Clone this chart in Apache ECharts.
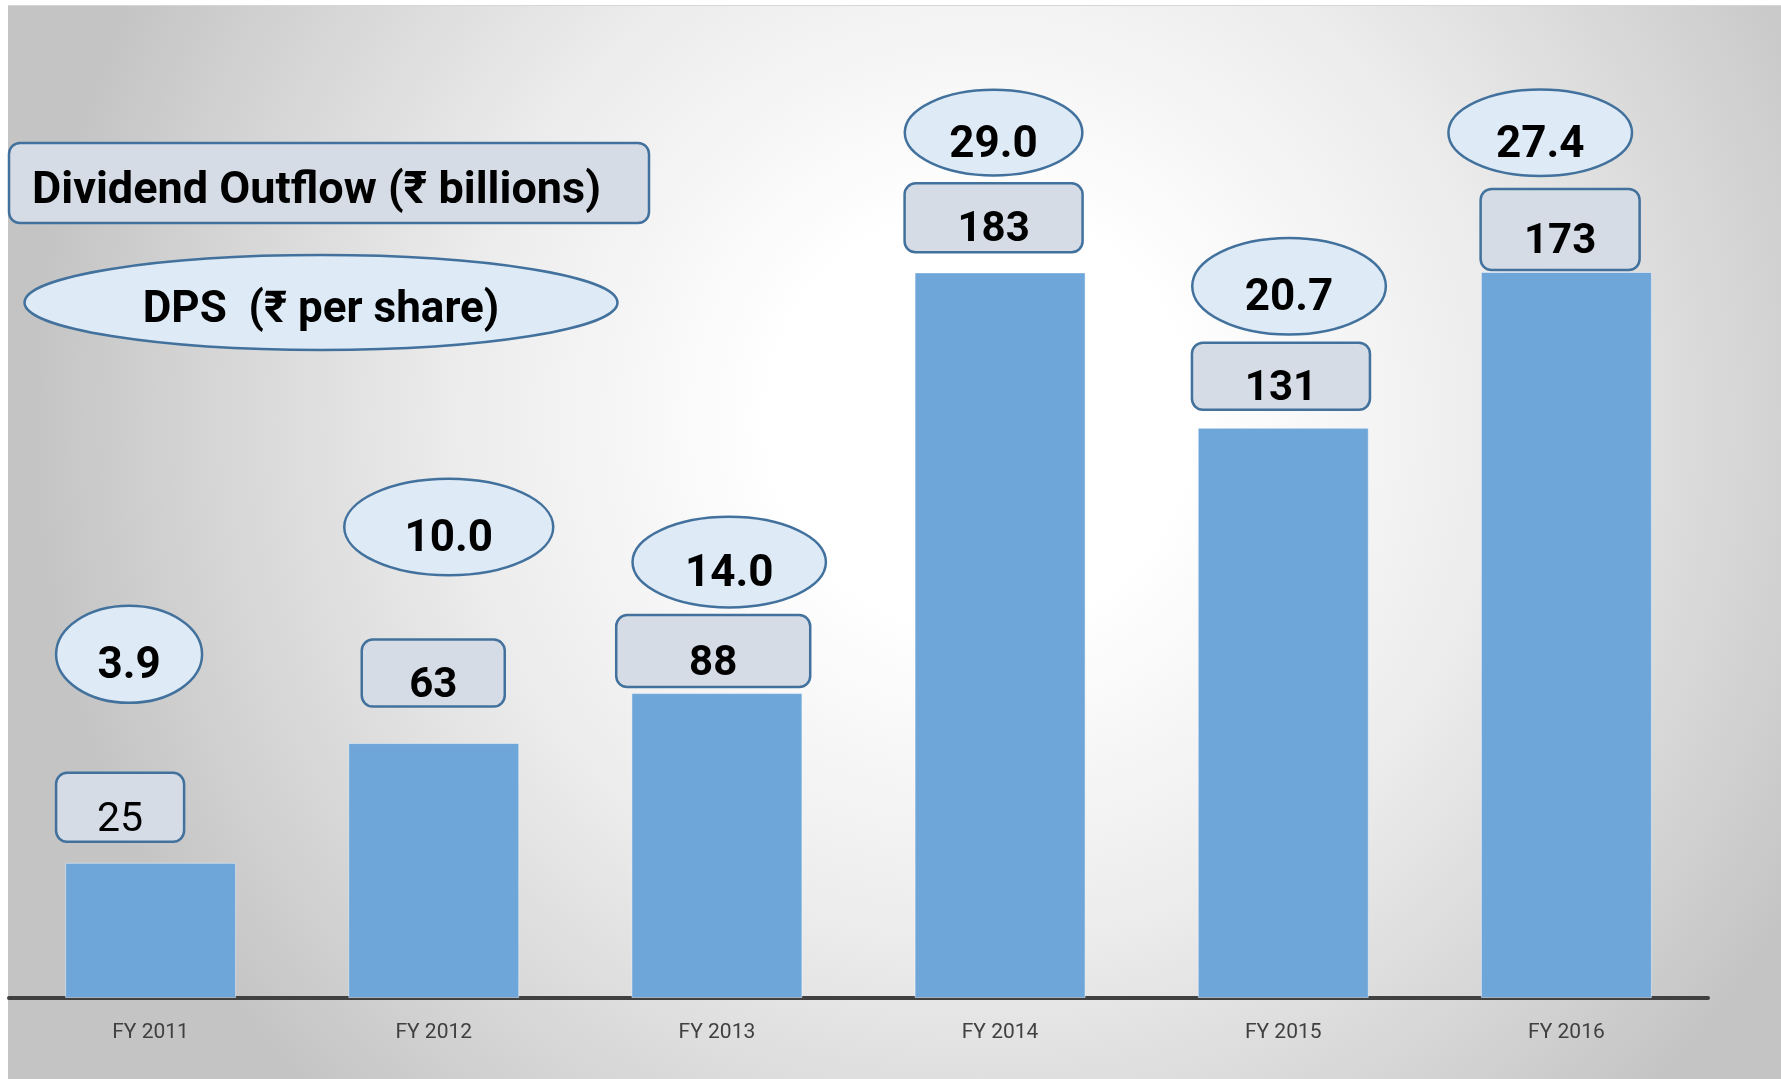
<!DOCTYPE html>
<html>
<head>
<meta charset="utf-8">
<script src="https://cdn.jsdelivr.net/npm/echarts@6/dist/echarts.min.js"></script>
<style>
html,body{margin:0;padding:0;background:#ffffff;}
#chart{width:1781px;height:1079px;}
</style>
</head>
<body>
<div id="chart"></div>
<script>
// ---- data ----
const categories = ['FY 2011', 'FY 2012', 'FY 2013', 'FY 2014', 'FY 2015', 'FY 2016'];
// drawn bar heights (chart units, FY 2014 bar = 183)
const barHeights = [34.1, 64.3, 76.9, 183, 143.8, 183.1];
// Dividend Outflow (₹ billions) – box labels
const dividendOutflow = [25, 63, 88, 183, 131, 173];
// DPS (₹ per share) – ellipse labels
const dps = [3.9, 10.0, 14.0, 29.0, 20.7, 27.4];

// ---- layout of the callouts (offsets from the bar top, px) ----
const calloutLayout = [
  {box: [-30.5, -55.5, 128, 69], ell: [-21.5, -208.5, 73, 48.5], boxWeight: 'normal'},
  {box: [-0.5, -70, 143, 67],    ell: [15, -216, 104.5, 48.3],   boxWeight: 'bold'},
  {box: [-3.7, -42, 194, 72],    ell: [12.3, -131, 96.7, 45.3],  boxWeight: 'bold'},
  {box: [-6.5, -54.6, 178, 69],  ell: [-6.5, -139.8, 88.8, 42.8], boxWeight: 'bold'},
  {box: [-2.3, -51.6, 178, 67],  ell: [5.8, -141.6, 96.8, 48.3],  boxWeight: 'bold'},
  {box: [-6.3, -42.5, 159, 81],  ell: [-26.2, -139.3, 91.8, 43.3], boxWeight: 'bold'}
];

const FONT = "Roboto, 'Noto Sans', 'DejaVu Sans', sans-serif";
const BOX_FILL = '#d6dce5';
const ELL_FILL = '#deeaf6';
const EDGE = '#41719c';
const TEXT_DY = 13;

const chart = echarts.init(document.getElementById('chart'), null, {renderer: 'canvas'});

const option = {
  animation: false,
  backgroundColor: '#ffffff',
  grid: {left: 9, right: 73, top: 205, bottom: 81, containLabel: false},
  xAxis: {
    type: 'category',
    data: categories,
    boundaryGap: true,
    axisLine: {show: true, lineStyle: {color: '#404040', width: 4}},
    axisTick: {show: false},
    axisLabel: {color: '#404040', fontSize: 21, fontFamily: FONT, margin: 24}
  },
  yAxis: {
    type: 'value', min: 0, max: 200, show: false,
    splitLine: {show: false}
  },
  graphic: [
    {
      type: 'rect', z: -10, silent: true,
      shape: {x: 8, y: 6, width: 1773, height: 1073},
      style: {
        fill: {
          type: 'radial', x: 980, y: 420, r: 950, global: true,
          colorStops: [
            {offset: 0, color: '#ffffff'},
            {offset: 0.22, color: '#ffffff'},
            {offset: 0.55, color: '#ececec'},
            {offset: 0.85, color: '#d2d2d2'},
            {offset: 1, color: '#c4c4c4'}
          ]
        }
      }
    },
    {
      type: 'line', z: -9, silent: true,
      shape: {x1: 8, y1: 5.5, x2: 1781, y2: 5.5},
      style: {stroke: '#d6d6d6', lineWidth: 1}
    },
    {
      type: 'rect', z: 5, silent: true,
      shape: {x: 9, y: 143, width: 640, height: 80, r: 11},
      style: {fill: BOX_FILL, stroke: EDGE, lineWidth: 2.5}
    },
    {
      type: 'text', z: 6, silent: true,
      style: {
        x: 32, y: 192, text: 'Dividend Outflow (₹ billions)',
        align: 'left', verticalAlign: 'middle',
        font: 'bold 45px ' + FONT, fill: '#000000'
      }
    },
    {
      type: 'ellipse', z: 5, silent: true,
      shape: {cx: 321, cy: 302.5, rx: 296.5, ry: 47.5},
      style: {fill: ELL_FILL, stroke: EDGE, lineWidth: 2.5}
    },
    {
      type: 'text', z: 6, silent: true,
      style: {
        x: 321, y: 311, text: 'DPS  (₹ per share)',
        align: 'center', verticalAlign: 'middle',
        font: 'bold 44px ' + FONT, fill: '#000000'
      }
    }
  ],
  series: [
    {
      type: 'bar',
      data: barHeights,
      barWidth: 171,
      itemStyle: {color: '#6fa6d9', borderColor: 'rgba(255,255,255,0.45)', borderWidth: 1},
      z: 2
    },
    {
      type: 'custom',
      clip: false,
      z: 5,
      data: categories.map((c, i) => [i, barHeights[i]]),
      encode: {x: 0, y: 1},
      renderItem: function (params, api) {
        const i = api.value(0);
        const top = api.coord([i, api.value(1)]);
        const L = calloutLayout[i];
        const bx = top[0] + L.box[0], by = top[1] + L.box[1];
        const ex = top[0] + L.ell[0], ey = top[1] + L.ell[1];
        return {
          type: 'group',
          children: [
            {
              type: 'rect',
              shape: {x: bx - L.box[2] / 2, y: by - L.box[3] / 2, width: L.box[2], height: L.box[3], r: 11},
              style: {fill: BOX_FILL, stroke: EDGE, lineWidth: 2.5}
            },
            {
              type: 'text',
              style: {
                x: bx, y: by + TEXT_DY, text: String(dividendOutflow[i]),
                align: 'center', verticalAlign: 'middle',
                font: L.boxWeight + ' ' + (L.boxWeight === 'bold' ? 42 : 41) + 'px ' + FONT,
                fill: '#000000'
              }
            },
            {
              type: 'ellipse',
              shape: {cx: ex, cy: ey, rx: L.ell[2], ry: L.ell[3]},
              style: {fill: ELL_FILL, stroke: EDGE, lineWidth: 2.5}
            },
            {
              type: 'text',
              style: {
                x: ex, y: ey + TEXT_DY, text: dps[i].toFixed(1),
                align: 'center', verticalAlign: 'middle',
                font: 'bold 44px ' + FONT, fill: '#000000'
              }
            }
          ]
        };
      }
    }
  ]
};
chart.setOption(option);
</script>
</body>
</html>
